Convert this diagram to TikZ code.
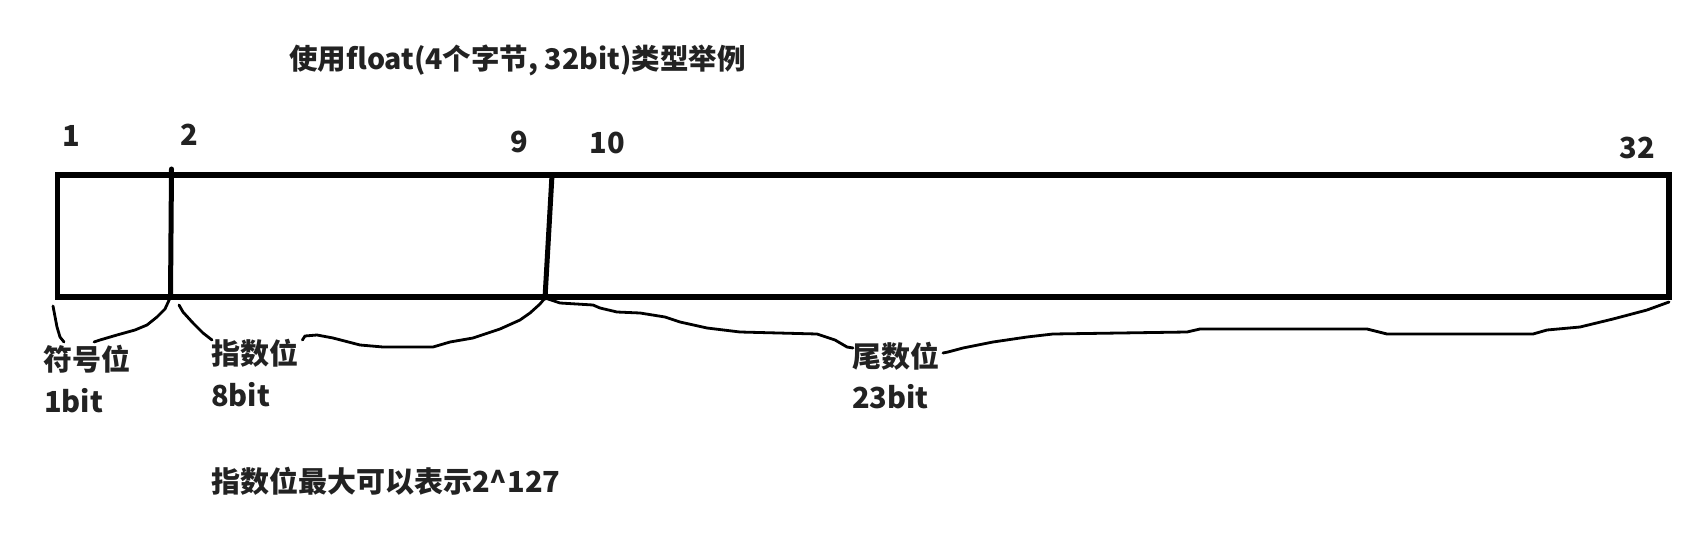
\documentclass[tikz,border=0pt]{standalone}
\usepackage{fontspec}
\newfontfamily\cjk{Noto Sans CJK SC}
\definecolor{txt}{HTML}{222222}
\tikzset{
  lbl/.style={font=\cjk\bfseries\fontsize{29}{34}\selectfont, text=txt, inner sep=0pt, anchor=base west},
  num/.style={font=\cjk\bfseries\fontsize{29}{34}\selectfont, text=txt, inner sep=0pt, anchor=base},
  frame/.style={draw=black, line width=5.5pt},
  divider/.style={draw=black, line width=5pt, line cap=round},
  brace/.style={draw=black, line width=2.8pt, line join=round, line cap=round},
}
\begin{document}
\begin{tikzpicture}[x=1pt, y=-1pt]
\useasboundingbox (0,0) rectangle (1696,548);
% frame
\coordinate (tl) at (57.5,175);
\coordinate (br) at (1669,297);
\draw[frame] (tl) rectangle (br);
% dividers
\coordinate (d1t) at (171.5,169);
\coordinate (d1b) at (170.5,297);
\coordinate (d2t) at (552,175);
\coordinate (d2b) at (545,298);
\draw[divider] (d1t) -- (d1b);
\draw[divider] (d2t) -- (d2b);
% numbers
\node[num] (n1) at (71,147) {1};
\node[num] (n2) at (189,146) {2};
\node[num] (n9) at (519,153) {9};
\node[num] (n10) at (607,154) {10};
\node[num] (n32) at (1637,159) {32};
% title
\node[lbl, font=\cjk\bfseries\fontsize{28.5}{34}\selectfont] (title) at (289,70) {使用float(4个字节, 32bit)类型举例};
% labels
\node[lbl] (sign) at (43,370) {符号位};
\node[lbl] (signbits) at (44,412) {1bit};
\node[lbl] (expo) at (211,364) {指数位};
\node[lbl] (expobits) at (211,406) {8bit};
\node[lbl] (mant) at (852,367) {尾数位};
\node[lbl] (mantbits) at (852,408) {23bit};
\node[lbl] (note) at (211,492) {指数位最大可以表示2\^{}127};
% sign brace
\coordinate (s0) at (53,306);
\draw[brace] (s0) -- (57,327) -- (60,337) -- (64,342);
\draw[brace] (94,342) -- (100,340) -- (117,335) -- (135,330) -- (147,325) -- (157,317) -- (165,309) -- (d1b);
% exponent brace
\coordinate (e0) at (179,305);
\draw[brace] (e0) -- (183,312) -- (193,323) -- (203,333) -- (212,340);
\draw[brace] (expo.east |- 0,340) ++(4,0) -- (305,336) -- (317,335) -- (333,338) -- (360,345) -- (383,347) -- (433,347) -- (450,342) -- (473,338) -- (500,329) -- (520,320) -- (530,313) -- (540,304) -- (d2b);
% mantissa brace
\draw[brace] (d2b) -- (560,303) -- (593,305) -- (600,308) -- (617,312) -- (640,313) -- (665,317) -- (680,322) -- (707,328) -- (740,332) -- (817,334) -- (835,340) -- (847,347) -- (853,348);
\draw[brace] (943,353) -- (948,352) -- (963,348) -- (993,342) -- (1027,337) -- (1053,334) -- (1120,333) -- (1187,332) -- (1200,329) -- (1367,329) -- (1387,334) -- (1533,334) -- (1547,330) -- (1580,327) -- (1613,319) -- (1647,310) -- (1669,302);
\end{tikzpicture}
\end{document}
